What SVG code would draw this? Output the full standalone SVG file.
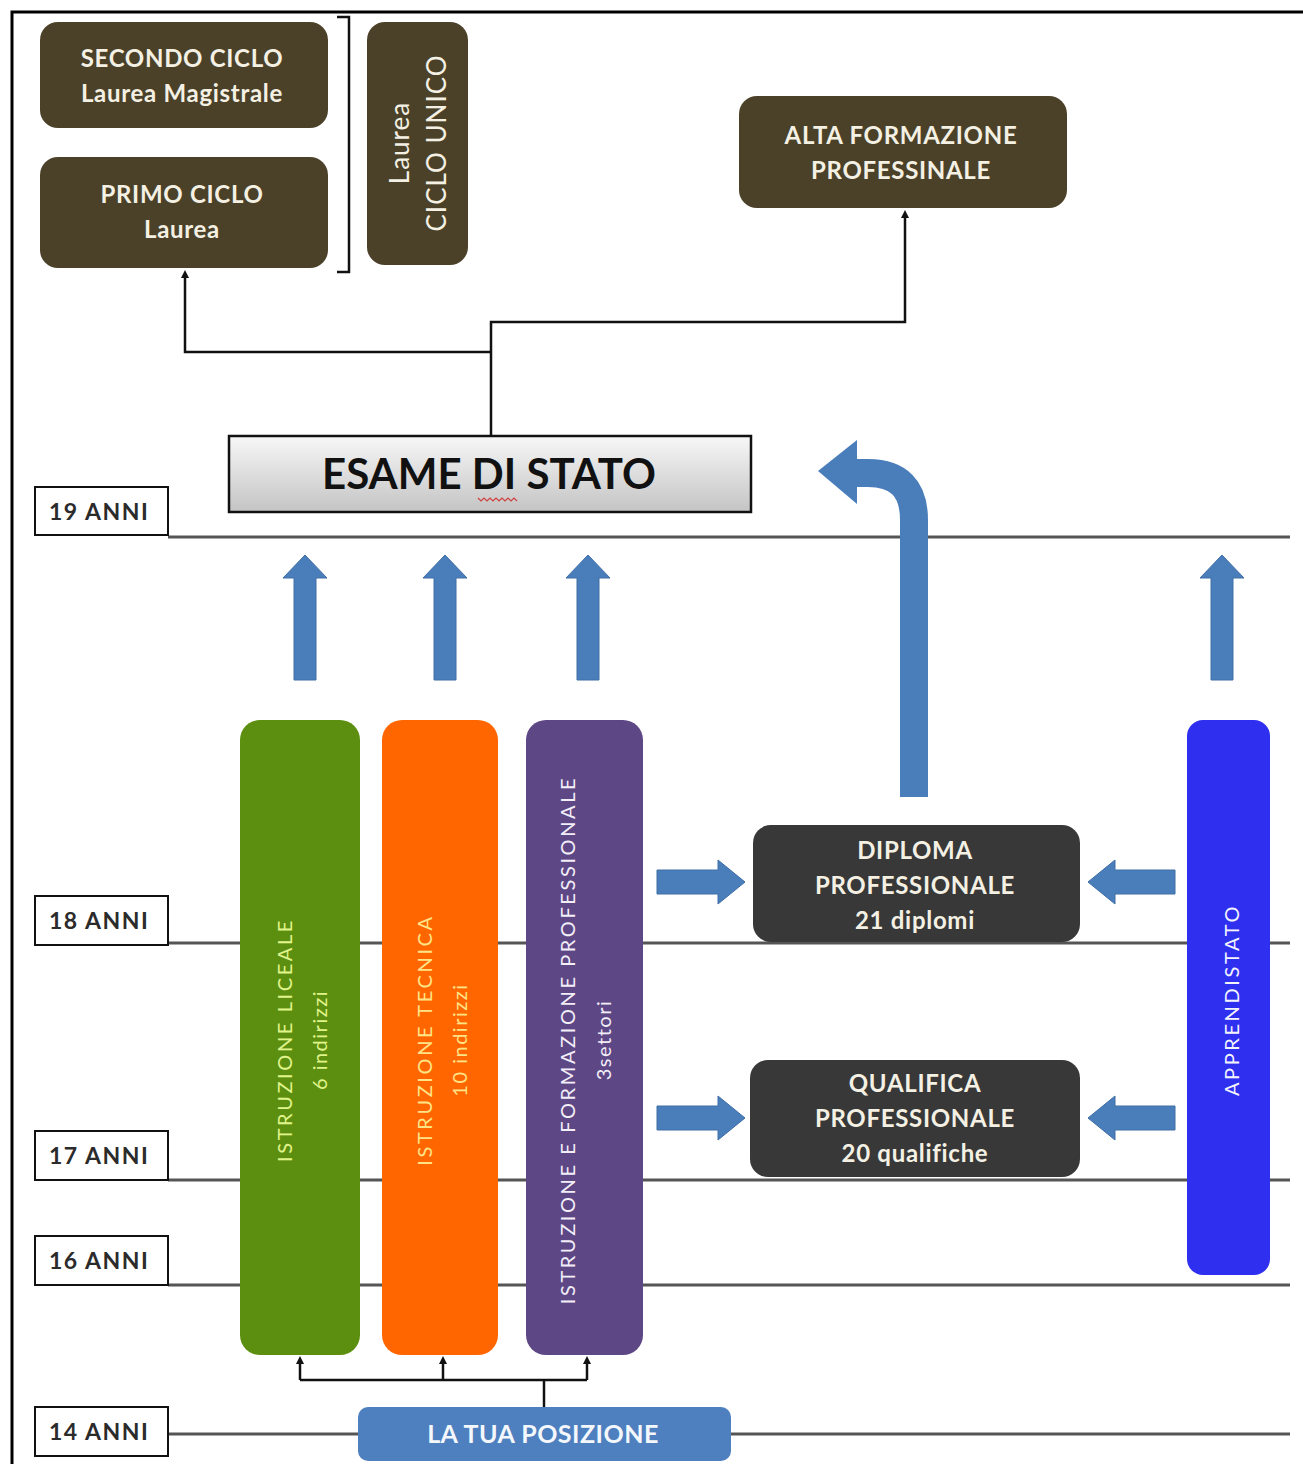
<svg xmlns="http://www.w3.org/2000/svg" width="1303" height="1464" viewBox="0 0 1303 1464">
<style>
.brown{fill:#4b4129}
.lbl{font-family:Lato,"Open Sans","Liberation Sans",sans-serif;font-weight:bold;text-anchor:middle}
.wt{fill:#f4f1e4;font-size:24px;letter-spacing:0.7px}
.age rect{fill:#fff;stroke:#111;stroke-width:2}
.age text{font-family:Lato,"Liberation Sans",sans-serif;font-weight:bold;font-size:23px;letter-spacing:1.5px;fill:#2b2b2b}
.hl{stroke:#555;stroke-width:3}
.conn{fill:none;stroke:#111;stroke-width:2.5}
.ba{fill:#4a7ebb;stroke:#3f6ea6;stroke-width:1}
.col{font-family:Lato,"Liberation Sans",sans-serif;font-size:20px;letter-spacing:2.6px;text-anchor:middle}
.sub{font-family:Lato,"Liberation Sans",sans-serif;font-size:20px;letter-spacing:1.5px;text-anchor:middle}
</style>
<defs>
<path id="up" d="M0,0 L22,23 L11,23 L11,125 L-11,125 L-11,23 L-22,23 Z"/>
<path id="rt" d="M0,0 L-27,-22 L-27,-12 L-88,-12 L-88,12 L-27,12 L-27,22 Z"/>
<path id="lt" d="M0,0 L27,-22 L27,-12 L87,-12 L87,12 L27,12 L27,22 Z"/>
<marker id="ah" markerWidth="8" markerHeight="8" refX="4" refY="4" orient="auto" markerUnits="userSpaceOnUse">
<path d="M0,0 L8,4 L0,8 Z" fill="#111"/>
</marker>
<linearGradient id="gr" x1="0" y1="0" x2="0" y2="1">
<stop offset="0" stop-color="#f7f7f7"/>
<stop offset="1" stop-color="#c4c4c4"/>
</linearGradient>
</defs>
<rect width="1303" height="1464" fill="#fff"/>
<!-- frame -->
<path d="M12,1464 L12,12 L1303,12" fill="none" stroke="#000" stroke-width="3"/>

<!-- age lines -->
<g id="age-lines">
<line class="hl" x1="168" y1="537" x2="1290" y2="537"/>
<line class="hl" x1="168" y1="943" x2="1290" y2="943"/>
<line class="hl" x1="168" y1="1180" x2="1290" y2="1180"/>
<line class="hl" x1="168" y1="1285" x2="1290" y2="1285"/>
<line class="hl" x1="168" y1="1434" x2="1290" y2="1434"/>
</g>

<g id="age19" class="age"><rect x="35" y="487" width="133" height="48"/><text x="49" y="520">19 ANNI</text></g>
<g id="age18" class="age"><rect x="35" y="896" width="133" height="49"/><text x="49" y="929">18 ANNI</text></g>
<g id="age17" class="age"><rect x="35" y="1131" width="133" height="49"/><text x="49" y="1164">17 ANNI</text></g>
<g id="age16" class="age"><rect x="35" y="1236" width="133" height="49"/><text x="49" y="1269">16 ANNI</text></g>
<g id="age14" class="age"><rect x="35" y="1407" width="133" height="49"/><text x="49" y="1440">14 ANNI</text></g>

<!-- connectors -->
<g id="connectors">
<path class="conn" d="M491,436 L491,322 L905,322 L905,214" marker-end="url(#ah)"/>
<path class="conn" d="M491,352 L185,352 L185,274" marker-end="url(#ah)"/>
<path class="conn" d="M544,1407 L544,1380"/>
<path class="conn" d="M300,1380 L587,1380"/>
<path class="conn" d="M300,1380 L300,1360" marker-end="url(#ah)"/>
<path class="conn" d="M443,1380 L443,1360" marker-end="url(#ah)"/>
<path class="conn" d="M587,1380 L587,1360" marker-end="url(#ah)"/>
<path d="M337,17 L349,17 L349,272 L337,272" fill="none" stroke="#111" stroke-width="2.5"/>
<!-- block arrows -->
<use href="#up" class="ba" x="305" y="555"/>
<use href="#up" class="ba" x="445" y="555"/>
<use href="#up" class="ba" x="588" y="555"/>
<use href="#up" class="ba" x="1222" y="555"/>
<use href="#rt" class="ba" x="745" y="882"/>
<use href="#rt" class="ba" x="745" y="1118"/>
<use href="#lt" class="ba" x="1088" y="882"/>
<use href="#lt" class="ba" x="1088" y="1118"/>
<path d="M914,797 L914,520 Q914,473 868,473 L850,473" fill="none" stroke="#4a7ebb" stroke-width="28"/>
<path d="M857,440 L818,471 L857,504 Z" fill="#4a7ebb"/>
</g>

<g id="secondo-ciclo">
<rect class="brown" x="40" y="22" width="288" height="106" rx="18"/>
<text class="lbl wt" x="182" y="67">SECONDO CICLO</text>
<text class="lbl wt" x="182" y="102">Laurea Magistrale</text>
</g>
<g id="primo-ciclo">
<rect class="brown" x="40" y="157" width="288" height="111" rx="18"/>
<text class="lbl wt" x="182" y="203">PRIMO CICLO</text>
<text class="lbl wt" x="182" y="238">Laurea</text>
</g>
<g id="ciclo-unico">
<rect class="brown" x="367" y="22" width="101" height="243" rx="18"/>
<g transform="translate(418,143) rotate(-90)">
<text x="0" y="-9" text-anchor="middle" font-family="Lato,'Liberation Sans',sans-serif" font-size="26" letter-spacing="1" fill="#f4f1e4">Laurea</text>
<text x="0" y="28" text-anchor="middle" font-family="Lato,'Liberation Sans',sans-serif" font-size="26" letter-spacing="1" fill="#f4f1e4">CICLO UNICO</text>
</g>
</g>
<g id="alta-formazione">
<rect class="brown" x="739" y="96" width="328" height="112" rx="18"/>
<text class="lbl wt" x="901" y="144">ALTA FORMAZIONE</text>
<text class="lbl wt" x="901" y="179">PROFESSINALE</text>
</g>

<g id="esame">
<rect x="229" y="436" width="522" height="76" fill="url(#gr)" stroke="#111" stroke-width="2.5"/>
<text class="lbl" x="489" y="489" font-size="42" fill="#111">ESAME DI STATO</text>
<path d="M478,498 l3,3 l3,-3 l3,3 l3,-3 l3,3 l3,-3 l3,3 l3,-3 l3,3 l3,-3 l3,3 l3,-3 l3,3" fill="none" stroke="#d04040" stroke-width="1.2"/>
</g>

<g id="liceale">
<rect x="240" y="720" width="120" height="635" rx="20" fill="#5c8f10"/>
<g transform="translate(302,1040) rotate(-90)">
<text class="col" x="0" y="-10" fill="#e0f48c">ISTRUZIONE  LICEALE</text>
<text class="sub" x="0" y="25" fill="#e0f48c">6 indirizzi</text>
</g>
</g>
<g id="tecnica">
<rect x="382" y="720" width="116" height="635" rx="20" fill="#ff6600"/>
<g transform="translate(442,1040) rotate(-90)">
<text class="col" x="0" y="-10" fill="#ffe386">ISTRUZIONE  TECNICA</text>
<text class="sub" x="0" y="25" fill="#ffe386">10 indirizzi</text>
</g>
</g>
<g id="professionale">
<rect x="526" y="720" width="117" height="635" rx="20" fill="#5e4785"/>
<g transform="translate(586,1040) rotate(-90)">
<text class="col" x="0" y="-11" fill="#f2eef8">ISTRUZIONE  E  FORMAZIONE PROFESSIONALE</text>
<text class="sub" x="0" y="25" fill="#f2eef8">3settori</text>
</g>
</g>

<g id="diploma">
<rect x="753" y="825" width="327" height="117" rx="18" fill="#383838"/>
<text class="lbl wt" x="915" y="859">DIPLOMA</text>
<text class="lbl wt" x="915" y="894">PROFESSIONALE</text>
<text class="lbl wt" x="915" y="929">21 diplomi</text>
</g>
<g id="qualifica">
<rect x="750" y="1060" width="330" height="117" rx="18" fill="#383838"/>
<text class="lbl wt" x="915" y="1092">QUALIFICA</text>
<text class="lbl wt" x="915" y="1127">PROFESSIONALE</text>
<text class="lbl wt" x="915" y="1162">20 qualifiche</text>
</g>

<g id="apprendistato">
<rect x="1187" y="720" width="83" height="555" rx="16" fill="#2f2ff0"/>
<text class="col" transform="translate(1239,1000) rotate(-90)" x="0" y="0" fill="#f4f4ff" font-size="21" letter-spacing="3">APPRENDISTATO</text>
</g>

<g id="posizione">
<rect x="358" y="1407" width="373" height="54" rx="10" fill="#4e80bf"/>
<text class="lbl" x="543" y="1443" font-size="25" letter-spacing="0.5" fill="#f4f7fc">LA TUA POSIZIONE</text>
</g>
</svg>
